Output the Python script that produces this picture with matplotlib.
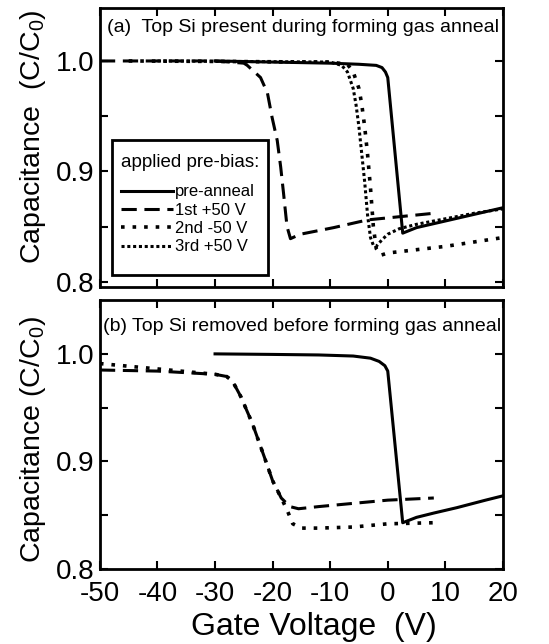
import numpy as np
import matplotlib
matplotlib.use("Agg")
import matplotlib.pyplot as plt
from matplotlib.patches import Rectangle

plt.rcParams['font.family'] = ['Liberation Sans', 'DejaVu Sans']
plt.rcParams['mathtext.fontset'] = 'custom'
plt.rcParams['mathtext.rm'] = 'Liberation Sans'
plt.rcParams['mathtext.it'] = 'Liberation Sans'
plt.rcParams['axes.unicode_minus'] = False

# (a) Top Si present during forming gas anneal
pre_a_v = [-30, -20, -10, -5, -2, -1, -0.4, 0, 2.6, 5, 10, 15, 20]
pre_a_c = [1.0, 0.999, 0.998, 0.997, 0.996, 0.994, 0.99, 0.985, 0.844, 0.849, 0.855, 0.861, 0.867]

first_a_v = [-50, -30, -25, -24.4, -22.1, -20.9, -20.1, -19.2, -18.6, -18.1, -17.5, -16.9, -15.2, -9.4, -3.5, 8]
first_a_c = [1.0, 1.0, 0.998, 0.996, 0.985, 0.971, 0.949, 0.928, 0.904, 0.88, 0.85, 0.839, 0.843, 0.849, 0.856, 0.862]

second_a_v = [-45, -10, -7, -6, -5, -4.5, -4, -3.5, -3, -2.5, -2, -1.2, 0, 5, 10, 15, 20]
second_a_c = [1.0, 0.999, 0.997, 0.99, 0.975, 0.96, 0.94, 0.915, 0.885, 0.85, 0.83, 0.824, 0.826, 0.829, 0.832, 0.836, 0.84]

third_a_v = [-40, -10, -8, -7, -6, -5.5, -5, -4.5, -4, -3.5, -3, -2.5, -2, -1, 0, 2, 5, 10, 15, 20]
third_a_c = [1.0, 0.999, 0.996, 0.99, 0.975, 0.96, 0.94, 0.915, 0.89, 0.86, 0.84, 0.833, 0.832, 0.838, 0.843, 0.848, 0.852, 0.857, 0.862, 0.866]

# (b) Top Si removed before forming gas anneal
pre_b_v = [-30, -20, -12, -6, -3, -1.5, -0.5, 0, 2.6, 5, 8, 12, 17, 20]
pre_b_c = [1.0, 0.9995, 0.999, 0.998, 0.996, 0.993, 0.989, 0.984, 0.843, 0.848, 0.852, 0.857, 0.864, 0.868]

first_b_v = [-50, -40, -30, -28, -27, -25.5, -23.5, -21.5, -20, -18.5, -17, -15.5, -12, -6, 0, 8]
first_b_c = [0.985, 0.984, 0.981, 0.979, 0.975, 0.96, 0.935, 0.905, 0.882, 0.866, 0.858, 0.856, 0.858, 0.861, 0.864, 0.866]

second_b_v = [-50, -40, -30, -28, -27, -25.5, -23.5, -21.5, -20, -18.5, -17.5, -16.5, -15, -12, -6, 0, 8]
second_b_c = [0.991, 0.986, 0.981, 0.979, 0.975, 0.96, 0.935, 0.905, 0.882, 0.866, 0.855, 0.842, 0.838, 0.838, 0.839, 0.842, 0.843]

labels = ["pre-anneal", "1st +50 V", "2nd -50 V", "3rd +50 V"]
x_ticks = [-50, -40, -30, -20, -10, 0, 10, 20]

styles = [dict(ls='-', lw=2.2),
          dict(ls=(0, (5, 2.5)), lw=2.2),
          dict(ls=(0, (1, 2.2)), lw=2.6),
          dict(ls=(0, (1, 0.9)), lw=2.2)]

fig = plt.figure(figsize=(5.49, 6.44), dpi=100)
ax1 = fig.add_axes([0.182, 0.554, 0.734, 0.4336])
ax2 = fig.add_axes([0.182, 0.1165, 0.734, 0.4175])


def style_axes(ax, ylo, yhi):
    ax.set_xlim(-50, 20)
    ax.set_ylim(ylo, yhi)
    ax.set_xticks(x_ticks)
    ax.set_yticks([0.8, 0.9, 1.0])
    ax.set_yticks([0.85, 0.95], minor=True)
    ax.tick_params(which='both', direction='in', top=True, right=True,
                   length=6, width=1.5, labelsize=20, pad=4)
    ax.tick_params(axis='x', pad=9)
    for s in ax.spines.values():
        s.set_linewidth(2.0)
    ax.yaxis.set_major_formatter(matplotlib.ticker.FormatStrFormatter('%.1f'))


# panel (a)
for v, c, st, lab in zip([pre_a_v, first_a_v, second_a_v, third_a_v],
                         [pre_a_c, first_a_c, second_a_c, third_a_c], styles, labels):
    ax1.plot(v, c, color='black', label=lab, **st)
style_axes(ax1, 0.795, 1.048)
ax1.tick_params(labelbottom=False)
ax1.text(0.017, 0.93, "(a)  Top Si present during forming gas anneal",
         transform=ax1.transAxes, fontsize=14, va='center', ha='left')
ax1.set_ylabel("Capacitance  (C/C$_0$)", fontsize=20.5)
ax1.yaxis.set_label_coords(-0.13, 0.54)

# legend box drawn by hand so it can be taller than the legend content
ax1.add_patch(Rectangle((0.03, 0.043), 0.387, 0.484, transform=ax1.transAxes,
                        facecolor='white', edgecolor='black', lw=2.0, zorder=4))
leg = ax1.legend(loc='upper left', bbox_to_anchor=(0.017, 0.527), title="applied pre-bias:",
                 fontsize=12, title_fontsize=13.5, handlelength=3.1, handletextpad=0.15,
                 frameon=False, borderpad=0.85, labelspacing=0.2,
                 borderaxespad=0, alignment='left')
leg._legend_box.sep = 9.5
leg.set_zorder(5)

# panel (b)
for v, c, st in zip([pre_b_v, first_b_v, second_b_v],
                    [pre_b_c, first_b_c, second_b_c], styles[:3]):
    ax2.plot(v, c, color='black', **st)
style_axes(ax2, 0.8, 1.05)
ax2.text(0.008, 0.9, "(b) Top Si removed before forming gas anneal",
         transform=ax2.transAxes, fontsize=14, va='center', ha='left')
ax2.set_ylabel("Capacitance (C/C$_0$)", fontsize=20.5)
ax2.yaxis.set_label_coords(-0.13, 0.48)
ax2.set_xlabel("Gate Voltage  (V)", fontsize=23)
ax2.xaxis.set_label_coords(0.53, -0.16)

fig.savefig("out.png", dpi=100)
